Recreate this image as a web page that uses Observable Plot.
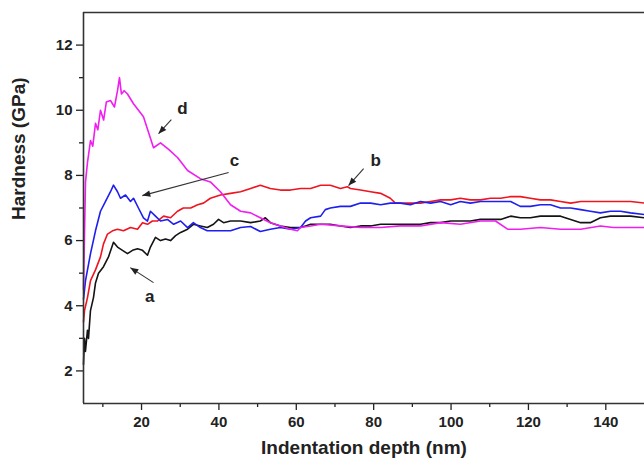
<!DOCTYPE html>
<html>
<head>
<meta charset="utf-8">
<script src="https://cdn.jsdelivr.net/npm/d3@7"></script>
<script src="https://cdn.jsdelivr.net/npm/@observablehq/plot@0.6"></script>
<style>
  html, body { margin: 0; padding: 0; background: #fff; overflow: hidden; }
  #chart svg { display: block; }
</style>
</head>
<body>
<div id="chart"></div>
<script>
// Hardness vs indentation depth for four samples (a–d)
const depthA = [5.0, 5.26, 5.5, 6.03, 6.29, 6.8, 7.58, 8.1, 8.88, 10.17, 11.46, 12.75, 13.79, 15.08, 16.37, 17.66, 18.96, 20.25, 21.54, 22.3, 23.6, 24.9, 26.2, 27.5, 28.8, 30.1, 31.9, 33.4, 35.2, 37.0, 38.6, 39.9, 41.2, 43.0, 45.6, 48.2, 50.7, 52.0, 53.3, 55.9, 58.5, 61.1, 62.4, 63.7, 66.3, 68.8, 71.4, 74.0, 76.6, 79.2, 81.8, 84.3, 86.9, 89.5, 92.1, 94.7, 97.3, 99.9, 102.4, 105.0, 107.6, 110.2, 112.8, 115.4, 117.9, 120.5, 123.1, 125.7, 128.3, 130.9, 133.5, 136.0, 138.6, 141.2, 143.8, 146.4, 150.0];
const hardA = [2.2, 3.0, 2.6, 3.25, 3.0, 3.85, 4.25, 4.7, 5.0, 5.2, 5.5, 5.95, 5.8, 5.7, 5.6, 5.7, 5.75, 5.7, 5.55, 5.8, 6.1, 6.0, 6.05, 6.0, 6.15, 6.25, 6.35, 6.5, 6.45, 6.4, 6.5, 6.65, 6.55, 6.6, 6.6, 6.55, 6.6, 6.7, 6.55, 6.45, 6.4, 6.4, 6.45, 6.5, 6.5, 6.5, 6.45, 6.4, 6.45, 6.45, 6.5, 6.5, 6.5, 6.5, 6.5, 6.55, 6.55, 6.6, 6.6, 6.6, 6.65, 6.65, 6.65, 6.75, 6.7, 6.7, 6.75, 6.75, 6.75, 6.65, 6.55, 6.55, 6.7, 6.75, 6.75, 6.75, 6.7];

const depthB = [5.0, 5.26, 6.03, 6.81, 8.1, 9.39, 10.17, 11.2, 12.5, 13.79, 15.34, 17.15, 18.96, 20.25, 21.54, 22.8, 24.1, 25.7, 27.5, 29.3, 30.8, 32.7, 34.5, 36.0, 37.8, 40.4, 43.0, 45.6, 48.2, 50.7, 53.3, 55.9, 58.5, 61.1, 63.7, 66.3, 68.8, 71.4, 73.2, 74.0, 76.6, 79.2, 81.8, 84.3, 85.6, 86.9, 89.5, 92.1, 94.7, 97.3, 99.9, 102.4, 105.0, 107.6, 110.2, 112.8, 115.4, 117.9, 120.5, 123.1, 125.7, 128.3, 130.9, 133.5, 136.0, 138.6, 141.2, 143.8, 146.4, 150.0];
const hardB = [3.5, 3.85, 4.25, 4.77, 5.1, 5.5, 5.9, 6.2, 6.3, 6.35, 6.3, 6.4, 6.35, 6.55, 6.5, 6.6, 6.6, 6.75, 6.7, 6.9, 7.0, 7.0, 7.1, 7.15, 7.3, 7.4, 7.45, 7.5, 7.6, 7.7, 7.6, 7.55, 7.55, 7.6, 7.6, 7.7, 7.7, 7.6, 7.65, 7.6, 7.55, 7.5, 7.45, 7.3, 7.15, 7.15, 7.15, 7.15, 7.2, 7.25, 7.25, 7.3, 7.25, 7.25, 7.3, 7.3, 7.35, 7.35, 7.3, 7.25, 7.25, 7.2, 7.15, 7.2, 7.2, 7.2, 7.2, 7.2, 7.2, 7.15];

const depthC = [5.0, 5.52, 6.81, 8.1, 9.39, 10.69, 11.98, 12.75, 13.79, 14.56, 15.86, 17.15, 17.92, 19.2, 20.5, 21.54, 22.3, 23.6, 24.9, 26.7, 28.3, 30.1, 31.9, 33.4, 35.2, 37.0, 40.4, 43.0, 45.6, 48.2, 50.7, 53.3, 55.9, 58.5, 61.1, 62.4, 63.7, 66.3, 67.5, 68.8, 71.4, 74.0, 76.6, 79.2, 81.8, 84.3, 86.9, 89.5, 92.1, 94.7, 97.3, 99.9, 102.4, 105.0, 107.6, 110.2, 112.8, 115.4, 117.9, 120.5, 123.1, 125.7, 128.3, 130.9, 133.5, 136.0, 138.6, 141.2, 143.8, 146.4, 150.0];
const hardC = [4.2, 4.77, 5.6, 6.3, 6.9, 7.2, 7.5, 7.7, 7.5, 7.3, 7.4, 7.2, 7.3, 7.0, 6.7, 6.6, 6.9, 6.75, 6.6, 6.65, 6.5, 6.6, 6.4, 6.55, 6.4, 6.3, 6.3, 6.3, 6.4, 6.43, 6.28, 6.35, 6.4, 6.35, 6.4, 6.6, 6.7, 6.75, 6.95, 7.0, 7.05, 7.05, 7.15, 7.15, 7.1, 7.15, 7.15, 7.1, 7.2, 7.15, 7.2, 7.1, 7.2, 7.15, 7.2, 7.2, 7.2, 7.2, 7.05, 7.05, 7.1, 7.1, 7.0, 7.0, 6.95, 6.9, 6.85, 6.9, 6.9, 6.85, 6.8];

const depthD = [5.0, 5.26, 5.52, 6.03, 6.81, 7.4, 8.1, 8.7, 9.39, 10.2, 10.9, 11.98, 13.0, 13.79, 14.3, 14.8, 15.5, 16.37, 17.92, 20.5, 23.1, 24.9, 27.0, 29.3, 31.9, 35.2, 37.8, 40.4, 43.0, 45.6, 48.2, 50.7, 53.3, 55.9, 58.5, 60.3, 61.1, 63.7, 66.3, 71.4, 76.6, 81.8, 86.9, 92.1, 97.3, 102.4, 107.6, 111.5, 114.6, 117.9, 123.1, 128.3, 133.5, 138.6, 142.0, 147.2, 150.0];
const hardD = [4.5, 6.2, 7.8, 8.4, 9.07, 8.9, 9.6, 9.4, 10.0, 9.7, 10.25, 10.3, 10.1, 10.6, 11.0, 10.5, 10.6, 10.5, 10.2, 9.8, 8.85, 9.0, 8.8, 8.55, 8.15, 7.9, 7.8, 7.5, 7.1, 6.9, 6.85, 6.7, 6.55, 6.45, 6.35, 6.3, 6.4, 6.45, 6.5, 6.45, 6.4, 6.4, 6.45, 6.45, 6.55, 6.5, 6.6, 6.6, 6.35, 6.35, 6.4, 6.35, 6.35, 6.45, 6.4, 6.4, 6.4];

// Curve labels with their pointer arrows (data units)
const labelNames = ["a", "b", "c", "d"];
const labelX = [22.1, 80.5, 44.0, 30.6];
const labelY = [4.28, 8.45, 8.45, 10.05];
const arrowFromX = [23.1, 77.4, 42.5, 27.7];
const arrowFromY = [4.71, 8.21, 8.09, 9.71];
const arrowToX = [17.1, 73.5, 20.2, 24.4];
const arrowToY = [5.17, 7.69, 7.38, 9.28];

const xMajor = [20, 40, 60, 80, 100, 120, 140];
const xMinor = [10, 30, 50, 70, 90, 110, 130];
const yMajor = [2, 4, 6, 8, 10, 12];
const yMinor = [3, 5, 7, 9, 11];

const series = [
  {xs: depthA, ys: hardA, color: "#141414"},
  {xs: depthB, ys: hardB, color: "#f0141e"},
  {xs: depthC, ys: hardC, color: "#1e1ef0"},
  {xs: depthD, ys: hardD, color: "#f01ef0"}
];

const labels = labelNames.map((name, i) => ({
  name, x: labelX[i], y: labelY[i],
  x1: arrowFromX[i], y1: arrowFromY[i], x2: arrowToX[i], y2: arrowToY[i]
}));

const font = "'Liberation Sans', Arial, Helvetica, sans-serif";

const lineMarks = series.map(s =>
  Plot.line(s.xs.map((x, i) => ({depth: x, hardness: s.ys[i]})), {
    x: "depth", y: "hardness", stroke: s.color, strokeWidth: 1.6, curve: "linear"
  })
);

const chart = Plot.plot({
  width: 644,
  height: 466,
  marginLeft: 83,
  marginRight: 0,
  marginTop: 12,
  marginBottom: 63,
  style: {fontFamily: font, fontWeight: "bold", color: "#222", background: "#fff"},
  x: {domain: [5, 150]},
  y: {domain: [1, 13]},
  marks: [
    Plot.axisX({ticks: xMajor, tickSize: 7, tickPadding: 6, fontSize: 15, label: null, strokeWidth: 1.3}),
    Plot.axisX({ticks: xMinor, tickSize: 4, tickFormat: () => "", label: null, strokeWidth: 1.3}),
    Plot.axisY({ticks: yMajor, tickSize: 7, tickPadding: 4, fontSize: 15, label: null, strokeWidth: 1.3}),
    Plot.axisY({ticks: yMinor, tickSize: 4, tickFormat: () => "", label: null, strokeWidth: 1.3}),
    ...lineMarks,
    Plot.ruleX([5], {stroke: "#333", strokeWidth: 1.6}),
    Plot.ruleY([1], {stroke: "#333", strokeWidth: 1.6}),
    Plot.ruleY([13], {stroke: "#333", strokeWidth: 1.6}),
    Plot.link(labels, {x1: "x1", y1: "y1", x2: "x2", y2: "y2", stroke: "#333", strokeWidth: 1.1}),
    Plot.text(labels, {x: "x", y: "y", text: "name", fontSize: 17, fontWeight: "bold", fill: "#222"}),
    Plot.text(["Indentation depth (nm)"], {frameAnchor: "bottom", dy: 50, fontSize: 19, fontWeight: "bold", fill: "#222"}),
    Plot.text(["Hardness (GPa)"], {frameAnchor: "left", rotate: -90, dx: -65, dy: 12, fontSize: 19, fontWeight: "bold", fill: "#222"})
  ]
});

// Solid triangular heads on the pointer arrows
const svg = d3.select(chart);
svg.insert("defs", ":first-child")
  .append("marker")
  .attr("id", "pointer-head")
  .attr("viewBox", "0 0 10 10")
  .attr("refX", 10)
  .attr("refY", 5)
  .attr("markerWidth", 10)
  .attr("markerHeight", 8)
  .attr("markerUnits", "userSpaceOnUse")
  .attr("orient", "auto")
  .append("path")
  .attr("d", "M0,1 L10,5 L0,9 Z")
  .attr("fill", "#222");
svg.selectAll("g[aria-label='link'] path").attr("marker-end", "url(#pointer-head)");

document.getElementById("chart").appendChild(chart);
</script>
</body>
</html>
